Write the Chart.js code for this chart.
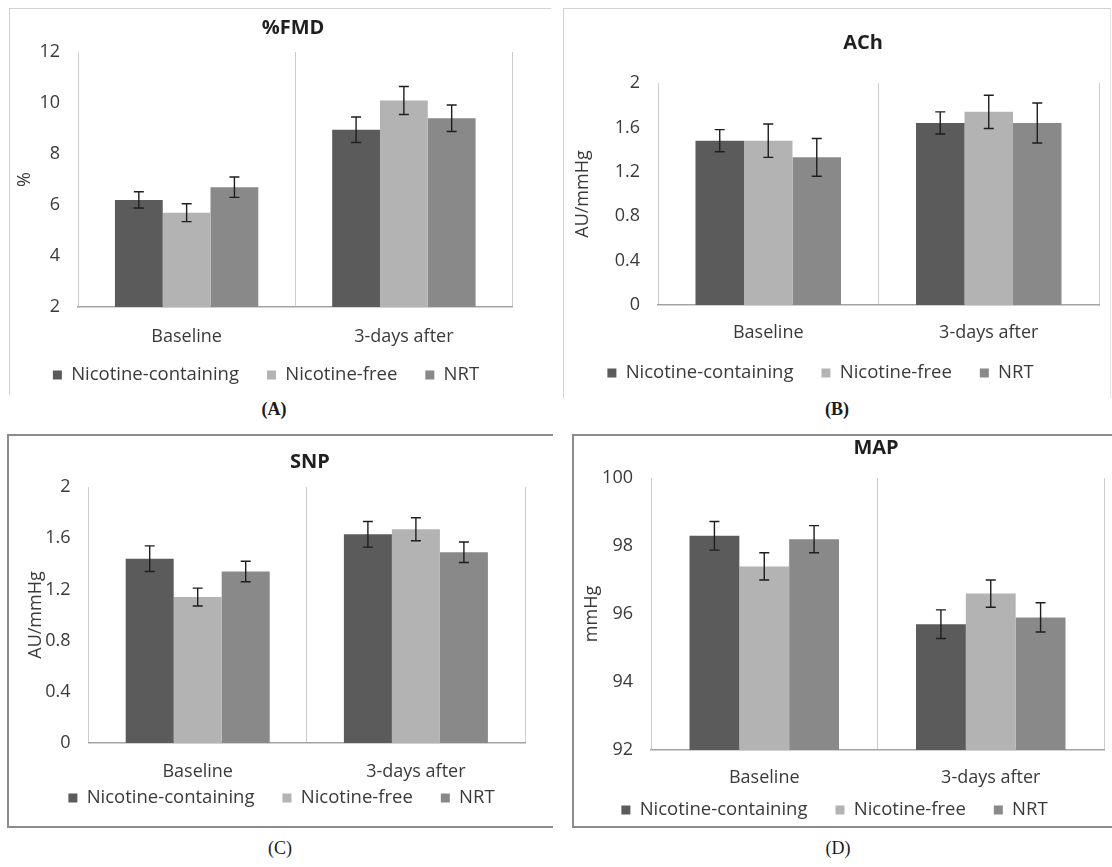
<!DOCTYPE html>
<html><head><meta charset="utf-8">
<script src="https://cdn.jsdelivr.net/npm/chart.js@4"></script>
<style>
html,body{margin:0;padding:0;background:#fff;}
body{width:1112px;height:867px;position:relative;overflow:hidden;}
canvas{position:absolute;}
.bd{position:absolute;box-sizing:border-box;}
.lab{position:absolute;font-family:'Liberation Serif','DejaVu Serif',serif;font-size:18px;color:#1a1a1a;transform:translate(-50%,-50%);white-space:nowrap;}
</style></head><body>
<div class="bd" style="left:9px;top:8px;width:542px;height:387px;border-top:1.5px solid #d2d2d2;border-left:1.5px solid #d2d2d2;"></div>
<div class="bd" style="left:563px;top:8px;width:548px;height:390px;border-top:1.5px solid #d2d2d2;border-left:1.5px solid #d2d2d2;border-right:1px solid #e4e4e4;"></div>
<div class="bd" style="left:7px;top:434px;width:546px;height:394px;border-top:2px solid #8c8c8c;border-left:2px solid #8c8c8c;border-bottom:2px solid #8c8c8c;"></div>
<div class="bd" style="left:572px;top:434px;width:560px;height:394px;border:2px solid #8c8c8c;"></div>
<div class="lab" style="left:274px;top:409px;font-weight:bold;">(A)</div>
<div class="lab" style="left:837px;top:409px;font-weight:bold;">(B)</div>
<div class="lab" style="left:280px;top:848px;">(C)</div>
<div class="lab" style="left:838px;top:848px;">(D)</div>
<canvas id="cA"></canvas>
<canvas id="cB"></canvas>
<canvas id="cC"></canvas>
<canvas id="cD"></canvas>
<script>
// ---------- data ----------
const categories = ['Baseline', '3-days after'];
const seriesNames = ['Nicotine-containing', 'Nicotine-free', 'NRT'];

// (A) %FMD
const fmdNC = [6.2, 8.95];
const fmdNF = [5.7, 10.1];
const fmdNRT = [6.7, 9.4];
const fmdErrNC = [0.32, 0.5];
const fmdErrNF = [0.35, 0.55];
const fmdErrNRT = [0.4, 0.52];
const fmdTicks = [2, 4, 6, 8, 10, 12];
const fmdTickLabels = ['2', '4', '6', '8', '10', '12'];

// (B) ACh
const achNC = [1.48, 1.64];
const achNF = [1.48, 1.74];
const achNRT = [1.33, 1.64];
const achErrNC = [0.1, 0.1];
const achErrNF = [0.15, 0.15];
const achErrNRT = [0.17, 0.18];
const achTicks = [0, 0.4, 0.8, 1.2, 1.6, 2];
const achTickLabels = ['0', '0.4', '0.8', '1.2', '1.6', '2'];

// (C) SNP
const snpNC = [1.44, 1.63];
const snpNF = [1.14, 1.67];
const snpNRT = [1.34, 1.49];
const snpErrNC = [0.1, 0.1];
const snpErrNF = [0.07, 0.09];
const snpErrNRT = [0.08, 0.08];
const snpTicks = [0, 0.4, 0.8, 1.2, 1.6, 2];
const snpTickLabels = ['0', '0.4', '0.8', '1.2', '1.6', '2'];

// (D) MAP
const mapNC = [98.3, 95.7];
const mapNF = [97.4, 96.6];
const mapNRT = [98.2, 95.9];
const mapErrNC = [0.42, 0.42];
const mapErrNF = [0.4, 0.4];
const mapErrNRT = [0.4, 0.43];
const mapTicks = [92, 94, 96, 98, 100];
const mapTickLabels = ['92', '94', '96', '98', '100'];

// ---------- style ----------
const COLORS = ['#5b5b5b', '#b3b3b3', '#898989'];
const FS = 18;
const TXT = '#3a3a3a';
Chart.defaults.font.family = "'Open Sans', 'DejaVu Sans', sans-serif";
Chart.defaults.font.size = FS;

const errorBarPlugin = {
  id: 'errbars',
  afterDatasetsDraw(chart) {
    const ctx = chart.ctx, ys = chart.scales.y;
    chart.data.datasets.forEach((ds, di) => {
      const meta = chart.getDatasetMeta(di);
      meta.data.forEach((bar, i) => {
        const v = ds.data[i], e = ds.errors[i];
        const yt = ys.getPixelForValue(v + e), yb = ys.getPixelForValue(v - e);
        ctx.save();
        ctx.strokeStyle = '#1e1e1e';
        ctx.lineWidth = 1.4;
        ctx.beginPath();
        ctx.moveTo(bar.x, yt); ctx.lineTo(bar.x, yb);
        ctx.moveTo(bar.x - 5, yt); ctx.lineTo(bar.x + 5, yt);
        ctx.moveTo(bar.x - 5, yb); ctx.lineTo(bar.x + 5, yb);
        ctx.stroke();
        ctx.restore();
      });
    });
  }
};

// moves the legend row and the title to the wanted place after Chart.js lays the chart out
const placeBoxes = {
  id: 'placeBoxes',
  afterLayout(chart) {
    const o = chart.options.plugins.placeBoxes || {};
    const lg = chart.legend;
    if (o.rowY != null && lg) {
      const p = lg.options.labels.padding;
      const cur = lg.top + p + lg.options.labels.font.size / 2;
      const d = o.rowY - cur;
      lg.top += d; lg.bottom += d;
    }
    const tb = chart.titleBlock;
    if (o.titleX != null && tb) {
      const d = o.titleX - (tb.left + tb.right) / 2;
      tb.left += d; tb.right += d;
    }
  }
};

function build(id, spec) {
  const lh = FS * 1.2;
  const legPad = 28;
  const axisLeft = 2 * spec.legendC - spec.plotR;
  const cLeft = Math.floor(Math.min(axisLeft, spec.yTitleX - 14) - 4);
  const padL = axisLeft - cLeft;
  const W = Math.ceil(spec.plotR + 3 - cLeft);
  const padR = cLeft + W - spec.plotR;
  const H = spec.canvasBottom - spec.canvasTop;
  const yW = spec.plotL - axisLeft;
  const ytPad = (spec.yTitleX - axisLeft) - lh / 2;
  const tTop = spec.titleY - spec.canvasTop - 12;
  const tBot = spec.plotT - spec.canvasTop - tTop - 24;
  const xPad = spec.catY - spec.plotB - lh / 2;
  const Hx = spec.catY - spec.plotB + 16;

  const cv = document.getElementById(id);
  cv.width = W; cv.height = H;
  cv.style.left = cLeft + 'px'; cv.style.top = spec.canvasTop + 'px';
  cv.style.width = W + 'px'; cv.style.height = H + 'px';

  const chart = new Chart(cv, {
    type: 'bar',
    data: {
      labels: categories,
      datasets: seriesNames.map((n, k) => ({
        label: n, data: spec.values[k], errors: spec.errors[k],
        backgroundColor: COLORS[k], borderWidth: 0,
        categoryPercentage: 0.66, barPercentage: 1.0
      }))
    },
    options: {
      responsive: false, animation: false, devicePixelRatio: 1,
      layout: { padding: { left: padL, right: padR, top: 0, bottom: 0 } },
      plugins: {
        title: { display: true, text: spec.title, fullSize: false, color: '#1f1f1f',
                 font: { size: 20, weight: 'bold' }, padding: { top: tTop, bottom: tBot } },
        legend: { position: 'bottom', labels: { boxWidth: 9, boxHeight: 9, padding: legPad, color: TXT, font: { size: 18.5 } } },
        placeBoxes: { rowY: spec.legendY - spec.canvasTop, titleX: spec.titleX - cLeft },
        tooltip: { enabled: false }
      },
      scales: {
        x: {
          grid: { offset: true, color: '#cdcdcd', lineWidth: 1, drawTicks: false },
          border: { color: '#a3a3a3', width: 1.5 },
          ticks: { padding: xPad, color: TXT, font: { size: FS } },
          afterFit: s => { s.height = Hx; }
        },
        y: {
          min: spec.tickValues[0], max: spec.tickValues[spec.tickValues.length - 1],
          grid: { display: false, drawTicks: false }, border: { display: false },
          afterBuildTicks: s => { s.ticks = spec.tickValues.map(v => ({ value: v })); },
          ticks: { padding: 18, color: TXT, font: { size: FS },
                   callback: (v, i) => spec.tickLabels[i] },
          afterFit: s => { s.width = yW; },
          title: { display: true, text: spec.yTitle, color: TXT, font: { size: FS },
                   padding: { top: ytPad, bottom: 0 } }
        }
      }
    },
    plugins: [errorBarPlugin, placeBoxes]
  });
  // align the plot area to the reference by adjusting the outer paddings
  const wantB = spec.plotB - spec.canvasTop, wantT = spec.plotT - spec.canvasTop;
  const dB = chart.chartArea.bottom - wantB;
  const dT = chart.chartArea.top - wantT;
  chart.options.layout.padding.bottom = Math.max(0, dB);
  chart.options.plugins.title.padding.bottom = tBot - dT;
  chart.update('none');
  return chart;
}

build('cA', {
  title: '%FMD', yTitle: '%',
  values: [fmdNC, fmdNF, fmdNRT], errors: [fmdErrNC, fmdErrNF, fmdErrNRT],
  tickValues: fmdTicks, tickLabels: fmdTickLabels,
  plotL: 78, plotR: 512.5, plotT: 52, plotB: 307,
  legendC: 266, legendY: 375, titleX: 293, titleY: 28, yTitleX: 25, catY: 337,
  canvasTop: 8, canvasBottom: 440
});
build('cB', {
  title: 'ACh', yTitle: 'AU/mmHg',
  values: [achNC, achNF, achNRT], errors: [achErrNC, achErrNF, achErrNRT],
  tickValues: achTicks, tickLabels: achTickLabels,
  plotL: 658, plotR: 1099, plotT: 83, plotB: 305,
  legendC: 820.5, legendY: 373, titleX: 863, titleY: 43, yTitleX: 583, catY: 333,
  canvasTop: 8, canvasBottom: 440
});
build('cC', {
  title: 'SNP', yTitle: 'AU/mmHg',
  values: [snpNC, snpNF, snpNRT], errors: [snpErrNC, snpErrNF, snpErrNRT],
  tickValues: snpTicks, tickLabels: snpTickLabels,
  plotL: 88.6, plotR: 525, plotT: 487, plotB: 743,
  legendC: 281.5, legendY: 798, titleX: 310, titleY: 462, yTitleX: 36, catY: 772,
  canvasTop: 437, canvasBottom: 866
});
build('cD', {
  title: 'MAP', yTitle: 'mmHg',
  values: [mapNC, mapNF, mapNRT], errors: [mapErrNC, mapErrNF, mapErrNRT],
  tickValues: mapTicks, tickLabels: mapTickLabels,
  plotL: 651, plotR: 1104, plotT: 478, plotB: 750,
  legendC: 834.5, legendY: 810, titleX: 876, titleY: 448, yTitleX: 592, catY: 778,
  canvasTop: 437, canvasBottom: 866
});
</script>
</body></html>
